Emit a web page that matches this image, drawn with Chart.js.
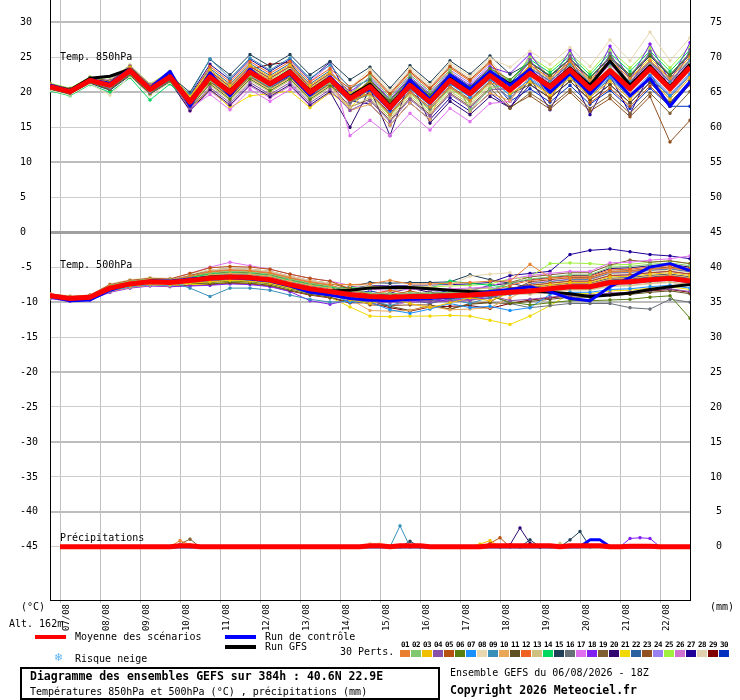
<!DOCTYPE html>
<html>
<head>
<meta charset="utf-8">
<script src="https://cdn.jsdelivr.net/npm/chart.js@4.4.1/dist/chart.umd.min.js"></script>
<style>
body { margin: 0; background: #fff; }
#wrap { position: relative; width: 740px; height: 700px; font-family: "DejaVu Sans Mono", monospace; color: #000; }
#wrap canvas { position: absolute; left: 0; top: 0; }
.t { position: absolute; white-space: pre; font-size: 10px; line-height: 10px; }
.b { font-weight: bold; font-size: 11.5px; line-height: 11.5px; }
.ln { position: absolute; height: 4px; width: 31px; }
#box { position: absolute; left: 20px; top: 667px; width: 420px; height: 33px; border: 2px solid #000; box-sizing: border-box; }
.sw { position: absolute; top: 650px; width: 10px; height: 7px; }
.num { position: absolute; top: 641px; width: 11px; text-align: center; font-size: 7.5px; line-height: 7.5px; font-weight: bold; letter-spacing: -0.5px; }
</style>
</head>
<body>
<div id="wrap">
  <canvas id="gefs" width="740" height="700"></canvas>
  <div class="t" style="left:60px;top:51.5px">Temp. 850hPa</div>
  <div class="t" style="left:60px;top:259.5px">Temp. 500hPa</div>
  <div class="t" style="left:60px;top:532.5px">Précipitations</div>
  <div class="t" style="left:21px;top:601.5px">(°C)</div>
  <div class="t" style="left:710px;top:601.5px">(mm)</div>
  <div class="t" style="left:9px;top:618.5px">Alt. 162m</div>
  <div class="ln" style="left:35px;top:635px;background:#ff0000"></div>
  <div class="t" style="left:75px;top:632px">Moyenne des scénarios</div>
  <div class="ln" style="left:225px;top:635px;background:#0000ff"></div>
  <div class="t" style="left:265px;top:632px">Run de contrôle</div>
  <div class="ln" style="left:225px;top:645px;background:#000"></div>
  <div class="t" style="left:265px;top:642px">Run GFS</div>
  <div class="t" style="left:340px;top:647px">30 Perts.</div>
  <div class="t" style="left:54px;top:652px;font-family:'DejaVu Sans';font-size:11px;line-height:11px;color:#58b0ee">❄</div>
  <div class="t" style="left:75px;top:653.5px">Risque neige</div>
  <div id="box"></div>
  <div class="t b" style="left:30px;top:671px">Diagramme des ensembles GEFS sur 384h : 40.6N 22.9E</div>
  <div class="t" style="left:30px;top:686.5px">Températures 850hPa et 500hPa (°C) , précipitations (mm)</div>
  <div class="t" style="left:450px;top:667.5px">Ensemble GEFS du 06/08/2026 - 18Z</div>
  <div class="t b" style="left:450px;top:685.3px">Copyright 2026 Meteociel.fr</div>
  <div id="legend"></div>
</div>
<script>
// x axis: one point every 12h from run start (06/08 18Z), 0..384h
const dayLabels = ["07/08","08/08","09/08","10/08","11/08","12/08","13/08","14/08",
                   "15/08","16/08","17/08","18/08","19/08","20/08","21/08","22/08"];
const leftTicks = [30,25,20,15,10,5,0,-5,-10,-15,-20,-25,-30,-35,-40,-45];
const rightTicks = [75,70,65,60,55,50,45,40,35,30,25,20,15,10,5,0];

const memberColors = ["#e8802f","#80c870","#f0c000","#8850a8","#b85010","#588010","#1890ff","#e8d8b0",
  "#3890b8","#e8a858","#605020","#f06020","#d0c080","#00d860","#204058","#687078","#e070f0","#8020f0",
  "#806030","#300870","#f0d800","#2860a0","#905020","#9880f0","#a0f040","#d070d0","#200098","#e0d0b0",
  "#800000","#0030c0"];

// 850 hPa temperature (°C)
const mean850 = [20.8,20.1,21.7,21.0,23.1,20.4,22.2,18.6,22.2,20.0,22.9,21.2,22.9,20.0,21.9,19.1,20.8,17.8,21.0,18.6,21.7,19.8,22.4,20.3,22.7,20.8,23.2,20.5,23.1,20.5,23.4,20.5,23.6];
const ctrl850 = [21.0,20.2,21.8,21.3,23.3,20.6,23.0,18.0,22.8,19.5,23.3,21.0,22.6,19.6,22.2,19.3,20.5,17.5,21.8,19.0,22.5,20.5,23.0,21.0,23.3,20.0,22.7,19.8,22.8,19.5,22.0,18.0,21.5];
const gfs850 = [20.9,20.3,22.0,22.3,23.3,20.6,22.4,18.8,22.3,20.2,23.0,21.3,23.1,20.2,22.1,19.4,21.2,18.1,21.3,18.9,22.0,20.3,22.9,21.2,22.9,21.0,23.5,21.0,24.5,21.0,23.8,20.8,24.0];
const members850 = [
  [21.0,20.3,21.9,21.3,23.4,20.9,22.5,19.0,22.7,20.5,23.4,21.7,23.0,20.5,22.4,18.9,19.8,16.8,20.0,17.9,20.7,18.8,21.4,20.6,23.9,22.0,24.4,21.7,24.6,22.0,24.5,22.0,25.1],
  [20.7,20.0,21.6,20.8,22.9,20.2,22.0,18.3,21.7,19.5,22.4,20.7,22.4,19.5,21.4,19.6,22.3,19.3,22.5,20.1,23.2,17.5,20.5,21.3,23.1,21.2,23.6,20.9,23.6,21.0,23.9,21.0,24.1],
  [21.1,20.4,22.0,21.5,23.6,20.9,22.7,19.4,23.2,21.0,23.9,22.2,23.9,21.0,22.9,19.9,21.3,18.3,21.5,19.1,22.2,20.3,22.9,19.8,21.5,19.6,22.0,19.3,21.6,19.0,21.9,19.0,22.1],
  [20.6,19.9,21.5,20.6,22.7,20.0,21.8,17.7,20.7,18.5,21.4,19.7,21.4,18.5,20.4,17.4,18.8,15.8,19.0,16.6,19.7,17.8,20.4,20.5,24.7,20.5,25.2,19.8,25.6,21.0,25.9,20.5,26.1],
  [20.9,20.2,21.8,21.2,23.3,20.6,22.4,19.1,23.0,20.8,23.7,22.0,23.7,20.8,22.7,20.5,22.8,19.8,23.0,20.6,23.7,21.8,24.4,20.1,23.8,18.8,24.8,18.5,20.6,18.0,20.9,18.0,21.1],
  [20.5,19.8,21.4,20.4,22.5,19.8,21.6,17.8,21.2,19.0,21.9,20.2,21.9,19.0,20.9,19.1,21.8,18.8,22.0,19.6,22.7,20.8,23.4,21.8,24.3,22.4,24.8,22.1,25.1,22.5,25.4,22.5,25.6],
  [21.1,20.4,22.0,21.4,23.5,20.8,22.6,18.9,22.4,20.2,23.1,21.4,23.1,20.2,22.1,19.0,20.3,17.3,20.5,18.1,21.2,19.3,21.9,19.6,21.9,20.0,22.4,19.7,22.1,19.5,22.4,19.5,22.6],
  [20.3,19.6,21.2,19.6,22.3,19.6,21.4,18.5,22.7,20.5,23.4,21.7,23.4,20.5,22.4,20.6,23.3,20.3,23.5,21.1,24.2,22.3,24.9,23.6,25.9,24.0,26.4,23.7,27.5,24.5,28.6,24.5,27.8],
  [20.9,20.2,21.8,21.1,23.2,20.5,22.3,19.7,24.8,22.0,24.9,23.2,24.9,22.0,23.9,20.6,21.8,18.8,22.0,19.6,22.7,20.8,23.4,21.3,23.5,21.6,24.0,21.3,24.1,21.5,24.4,21.5,24.6],
  [20.6,19.9,21.5,20.7,22.8,20.1,21.9,18.0,21.4,19.2,22.1,20.4,22.1,19.2,21.1,17.4,18.3,15.3,18.5,16.1,23.5,17.3,19.9,18.8,22.3,20.4,22.8,20.1,22.6,20.0,22.9,20.0,23.1],
  [21.2,20.5,22.1,21.6,23.7,21.0,22.8,18.8,22.0,19.8,22.7,21.0,22.7,19.8,21.7,19.4,21.6,18.6,21.8,19.4,22.5,20.6,23.2,19.7,21.1,19.2,21.6,18.9,21.1,18.5,21.4,18.5,21.6],
  [20.7,20.0,21.6,20.9,23.0,20.3,22.1,19.3,23.7,21.5,24.4,22.7,24.4,21.5,23.4,20.8,22.6,19.6,22.8,20.4,23.5,21.6,24.2,21.2,23.0,20.8,23.2,20.5,23.1,20.9,23.4,20.5,23.6],
  [21.0,20.3,21.9,21.3,23.4,20.7,22.5,18.2,21.0,18.8,21.7,20.0,21.7,18.8,20.7,17.8,19.3,16.3,19.5,17.1,20.2,18.3,20.9,20.2,23.7,21.8,24.2,21.5,24.3,21.7,24.6,21.7,24.8],
  [20.2,19.5,21.1,20.0,22.1,18.9,21.2,18.3,22.5,20.3,23.2,21.5,23.2,20.3,22.2,19.4,21.1,18.1,21.3,18.9,22.0,20.1,22.7,21.7,24.7,22.8,25.2,22.5,25.6,23.0,25.9,23.0,26.1],
  [20.9,20.2,21.8,21.2,23.3,20.6,22.4,20.0,24.7,22.5,25.4,23.7,25.4,22.5,24.4,21.8,23.6,20.6,23.8,21.4,24.5,22.6,25.2,22.6,24.2,22.3,24.7,22.0,24.9,22.3,25.2,22.3,25.4],
  [20.5,19.8,21.4,20.5,22.6,19.9,21.7,18.2,21.9,19.7,22.6,20.9,22.6,19.7,21.6,18.5,19.8,16.8,20.0,17.6,20.7,18.8,21.4,19.2,21.7,19.8,22.2,19.5,21.9,19.3,22.2,19.3,22.4],
  [21.2,20.5,22.1,21.7,23.8,21.1,22.9,17.7,19.7,17.5,20.4,18.7,20.4,21.5,24.0,13.8,16.0,13.8,17.0,14.6,17.7,15.8,18.4,18.7,23.3,21.4,23.8,21.1,23.9,21.3,24.2,21.3,24.4],
  [20.7,20.0,21.6,20.8,22.9,20.2,22.0,18.9,23.0,20.8,23.7,22.0,23.7,20.8,22.7,20.1,22.0,19.0,22.2,19.8,22.9,21.0,23.6,22.7,25.5,21.5,26.0,20.8,26.6,21.8,26.9,21.5,27.1],
  [21.1,20.4,22.0,21.4,23.5,20.8,22.6,18.5,21.5,19.3,22.2,20.5,22.2,19.3,21.2,17.9,19.0,16.0,19.2,16.8,19.9,18.0,20.6,17.7,19.9,18.0,20.4,17.7,19.6,17.0,19.9,17.0,20.1],
  [20.4,19.7,21.3,20.3,22.4,19.7,21.5,17.4,20.4,18.2,21.1,19.4,21.1,18.2,20.1,15.0,20.5,13.8,21.8,15.6,18.7,16.8,19.4,17.8,21.1,19.2,21.6,18.9,21.1,18.5,21.4,18.5,21.6],
  [20.6,19.9,21.5,20.7,22.8,20.1,21.9,17.6,20.5,17.8,19.5,19.8,20.2,17.8,20.0,17.8,20.6,17.6,20.8,18.4,21.5,19.6,22.2,21.0,23.9,22.0,24.4,21.7,24.6,22.0,24.9,22.0,25.1],
  [21.1,20.4,22.0,21.5,23.6,20.9,22.7,19.5,23.4,21.2,24.1,22.4,24.1,21.2,23.1,19.7,20.8,17.8,21.0,18.6,21.7,19.8,22.4,21.3,24.3,22.4,24.8,22.1,25.1,22.5,25.4,22.5,25.6],
  [20.6,19.9,21.5,20.6,22.7,20.0,21.8,18.4,22.2,20.0,22.9,21.2,22.9,20.0,21.9,18.7,20.0,17.0,20.2,17.8,20.9,19.0,21.6,17.9,19.5,17.6,20.0,17.3,19.1,16.5,19.4,12.9,16.0],
  [20.9,20.2,21.8,21.1,23.2,20.5,22.3,18.5,21.8,19.6,22.5,20.8,22.5,19.6,21.5,19.7,22.3,19.3,22.5,20.1,23.2,21.3,23.9,20.7,22.1,20.2,22.6,19.9,22.3,19.7,22.6,19.7,22.8],
  [21.3,20.6,22.2,21.8,23.9,21.2,23.0,19.3,22.8,20.6,23.5,21.8,23.5,20.6,22.5,18.8,19.6,16.6,19.8,17.4,20.5,18.6,21.2,21.2,25.1,23.2,25.6,22.9,26.1,23.5,26.4,23.5,26.6],
  [20.5,19.8,21.4,20.4,22.5,19.8,21.6,17.3,20.2,18.0,20.9,19.2,20.9,18.0,19.9,18.4,21.3,18.3,21.5,19.1,22.2,20.3,22.9,19.8,25.5,22.0,22.0,19.3,21.6,19.0,21.9,19.0,22.1],
  [20.9,20.2,21.8,21.2,23.3,20.6,22.4,19.6,24.0,21.8,24.7,23.0,24.7,21.8,24.3,18.8,18.3,15.3,18.5,16.1,19.2,17.3,19.9,17.8,22.0,17.5,23.0,16.8,22.4,16.9,22.8,18.0,21.1],
  [21.0,20.3,21.9,21.3,23.4,20.7,22.5,18.3,21.2,19.0,21.9,20.2,21.9,19.0,20.9,19.7,23.0,20.0,23.2,20.8,23.9,22.0,24.6,21.3,22.5,20.6,23.0,20.3,22.9,20.3,23.2,20.3,23.4],
  [20.6,19.9,21.5,20.7,22.8,20.1,21.9,18.6,22.6,20.4,23.3,24.0,24.3,20.4,22.3,19.6,21.4,18.4,21.6,19.2,22.3,20.4,23.0,21.1,23.5,21.6,24.0,21.3,24.1,21.5,24.4,21.5,24.6],
  [20.8,20.1,21.7,21.0,23.1,20.4,22.2,18.3,21.6,19.4,22.3,20.6,22.3,19.4,21.3,18.6,20.4,17.4,20.6,18.2,21.3,19.4,22.0,18.7,20.5,18.6,21.0,18.3,20.3,17.7,20.6,18.0,18.0]
];

// 500 hPa temperature (°C)
const mean500 = [-9.1,-9.5,-9.3,-8.0,-7.4,-7.1,-7.2,-6.9,-6.6,-6.4,-6.5,-6.8,-7.5,-8.1,-8.5,-8.9,-9.2,-9.3,-9.2,-9.2,-9.1,-9.0,-8.8,-8.6,-8.4,-8.1,-7.8,-7.8,-7.2,-7.1,-6.8,-6.6,-7.0];
const ctrl500 = [-9.2,-9.8,-9.7,-8.3,-7.4,-7.0,-7.0,-6.7,-6.5,-6.5,-6.7,-7.0,-7.7,-8.6,-9.0,-9.5,-9.7,-9.8,-9.6,-9.5,-9.3,-8.9,-8.5,-8.2,-7.8,-8.5,-9.5,-9.8,-7.8,-6.5,-5.0,-4.5,-5.5];
const gfs500 = [-9.1,-9.6,-9.4,-8.1,-7.5,-7.0,-7.1,-6.8,-6.4,-6.3,-6.4,-6.9,-7.6,-8.2,-8.4,-8.3,-8.0,-7.9,-7.9,-8.1,-8.3,-8.5,-8.6,-8.5,-8.4,-8.6,-8.8,-9.2,-9.0,-8.7,-8.2,-7.8,-7.5];
const members500 = [
  [-8.9,-9.3,-9.1,-7.7,-7.1,-6.8,-6.9,-6.3,-5.6,-5.4,-5.5,-5.8,-6.5,-7.1,-7.5,-7.5,-7.4,-6.9,-7.4,-7.4,-7.3,-7.2,-7.0,-7.0,-4.6,-6.5,-6.6,-6.6,-5.7,-5.6,-5.3,-5.1,-5.5],
  [-8.9,-9.3,-9.1,-7.6,-7.0,-6.7,-6.8,-6.3,-5.8,-5.6,-5.7,-6.0,-6.7,-7.3,-7.7,-8.3,-8.7,-8.8,-8.7,-8.7,-8.6,-8.5,-8.3,-7.3,-6.7,-6.4,-6.1,-6.1,-5.0,-4.9,-4.6,-4.4,-4.8],
  [-9.3,-9.7,-9.5,-8.3,-7.7,-7.4,-7.5,-7.3,-7.1,-6.9,-7.0,-7.3,-8.0,-8.6,-9.0,-9.7,-10.2,-9.5,-10.2,-10.8,-10.1,-9.4,-9.8,-8.7,-7.8,-7.5,-7.2,-7.2,-6.4,-6.3,-6.0,-5.8,-6.2],
  [-9.0,-9.4,-9.2,-7.8,-7.2,-6.9,-7.0,-6.8,-6.6,-6.4,-6.5,-6.8,-7.5,-8.1,-8.5,-9.3,-10.0,-10.1,-10.0,-10.0,-9.9,-9.8,-9.0,-9.8,-9.6,-9.3,-9.0,-9.0,-8.7,-8.6,-8.3,-8.1,-8.5],
  [-8.8,-9.2,-9.0,-7.5,-6.9,-6.6,-6.7,-5.9,-5.1,-4.9,-5.0,-5.3,-6.0,-6.6,-7.0,-8.1,-9.0,-9.1,-8.4,-9.0,-8.9,-8.8,-8.6,-8.0,-7.6,-7.3,-7.0,-7.0,-6.2,-6.1,-5.8,-5.6,-6.0],
  [-9.2,-9.6,-9.4,-8.2,-7.6,-7.3,-7.4,-7.3,-7.2,-7.0,-7.1,-7.4,-8.1,-8.7,-9.1,-9.4,-9.5,-9.6,-9.5,-9.5,-9.4,-9.3,-9.1,-10.0,-10.4,-10.1,-9.8,-9.8,-9.7,-9.6,-9.3,-9.1,-12.3],
  [-9.4,-9.8,-9.6,-8.4,-7.8,-7.5,-7.6,-7.3,-6.9,-6.7,-6.8,-7.1,-7.8,-8.4,-8.8,-10.0,-10.0,-11.1,-11.6,-11.0,-10.2,-10.8,-10.6,-11.2,-10.8,-8.9,-8.6,-8.6,-8.2,-8.1,-7.8,-7.6,-8.0],
  [-8.8,-9.1,-9.0,-7.4,-6.8,-6.5,-6.6,-6.0,-5.4,-5.2,-5.3,-5.6,-6.3,-6.9,-7.3,-7.6,-7.7,-7.8,-7.7,-7.7,-7.6,-6.3,-6.0,-5.8,-7.5,-7.2,-6.9,-6.9,-6.0,-5.9,-5.6,-5.4,-5.8],
  [-9.0,-9.4,-9.2,-7.9,-7.3,-7.0,-7.1,-8.0,-9.2,-8.0,-8.0,-8.3,-9.0,-9.6,-10.0,-9.9,-9.7,-10.5,-9.7,-9.0,-9.6,-10.2,-9.3,-8.9,-8.6,-8.3,-8.0,-8.0,-7.4,-7.3,-7.0,-6.8,-7.2],
  [-9.4,-9.8,-9.6,-8.5,-7.9,-7.6,-7.7,-6.9,-6.1,-5.9,-6.0,-6.3,-7.0,-7.6,-8.0,-9.6,-11.2,-11.3,-11.2,-10.6,-11.1,-11.0,-10.8,-9.4,-8.0,-7.7,-7.4,-7.4,-6.7,-6.6,-6.3,-6.1,-6.5],
  [-9.1,-9.5,-9.3,-8.0,-7.4,-7.1,-7.2,-7.3,-7.4,-7.2,-7.3,-7.6,-8.3,-8.9,-9.3,-10.0,-9.8,-10.6,-11.2,-10.5,-11.0,-10.3,-10.1,-10.2,-9.9,-9.6,-9.3,-9.3,-9.0,-8.9,-8.6,-8.4,-8.8],
  [-8.9,-9.3,-9.1,-7.6,-7.0,-6.7,-6.8,-6.3,-5.7,-5.5,-5.6,-5.9,-6.6,-7.2,-7.6,-8.3,-8.9,-8.3,-8.9,-9.5,-8.8,-8.7,-8.5,-7.6,-6.9,-6.6,-6.3,-6.3,-5.4,-5.3,-5.0,-4.8,-5.2],
  [-9.2,-9.6,-9.4,-8.1,-7.5,-7.2,-7.3,-6.8,-6.3,-6.1,-6.2,-6.5,-7.2,-7.8,-8.2,-8.4,-8.9,-8.5,-7.9,-7.8,-8.3,-8.2,-8.0,-8.5,-8.8,-8.5,-8.2,-8.2,-7.7,-7.6,-7.3,-7.1,-7.5],
  [-8.9,-9.3,-9.1,-7.7,-7.1,-6.8,-6.9,-6.5,-6.0,-5.8,-5.9,-6.2,-6.9,-7.5,-7.9,-8.0,-8.0,-8.1,-8.0,-8.0,-7.0,-7.3,-7.6,-7.9,-8.2,-7.9,-7.6,-7.6,-6.9,-6.8,-6.5,-6.3,-6.7],
  [-9.2,-9.6,-9.4,-8.2,-7.6,-7.3,-7.4,-6.9,-6.4,-6.2,-6.3,-6.6,-7.3,-7.9,-8.3,-7.8,-7.2,-7.3,-7.2,-7.2,-7.1,-6.1,-6.8,-7.3,-7.9,-7.6,-7.3,-7.3,-6.6,-6.5,-6.2,-6.0,-6.4],
  [-9.3,-9.7,-9.5,-8.3,-7.7,-7.4,-7.5,-7.3,-7.0,-6.8,-6.9,-7.2,-7.9,-8.5,-8.9,-9.2,-9.4,-8.8,-9.4,-9.9,-9.3,-8.6,-9.0,-10.2,-10.8,-10.5,-10.2,-10.2,-10.2,-10.8,-11.0,-9.6,-10.0],
  [-8.8,-9.2,-9.0,-7.5,-6.9,-6.6,-6.7,-5.9,-5.0,-4.3,-4.8,-5.3,-6.0,-6.6,-7.0,-7.6,-8.2,-8.3,-8.2,-8.2,-8.1,-8.0,-7.8,-6.7,-6.2,-5.9,-5.6,-5.6,-4.4,-4.3,-4.0,-3.8,-3.4],
  [-9.5,-9.9,-9.7,-8.6,-8.0,-7.7,-7.8,-7.7,-7.6,-7.4,-7.5,-7.8,-8.5,-9.8,-10.3,-9.7,-9.8,-9.9,-9.8,-9.8,-9.7,-9.6,-9.4,-8.4,-7.6,-7.3,-7.0,-7.0,-6.2,-6.1,-5.8,-5.6,-6.0],
  [-9.0,-9.4,-9.2,-7.8,-7.2,-6.9,-7.0,-6.2,-5.4,-5.2,-5.3,-5.6,-6.3,-6.9,-7.3,-8.1,-8.8,-8.9,-8.8,-8.8,-8.7,-8.6,-8.4,-7.2,-6.4,-6.1,-5.8,-5.8,-4.7,-4.0,-4.3,-4.1,-4.5],
  [-9.2,-9.6,-9.4,-8.1,-7.5,-7.2,-7.3,-7.1,-6.8,-6.6,-6.7,-7.0,-7.7,-8.3,-8.7,-8.7,-9.2,-8.7,-8.0,-8.6,-9.0,-8.4,-7.6,-7.3,-6.8,-6.5,-6.2,-6.2,-5.2,-5.1,-4.8,-4.6,-5.0],
  [-9.4,-9.8,-9.6,-8.4,-7.8,-7.5,-7.6,-7.5,-7.4,-7.2,-7.3,-7.6,-8.3,-8.9,-9.3,-10.7,-12.0,-12.1,-12.0,-12.0,-11.9,-12.0,-12.6,-13.2,-12.0,-10.5,-8.8,-8.8,-8.4,-8.3,-8.0,-7.8,-8.2],
  [-9.1,-9.5,-9.3,-7.9,-7.3,-7.0,-7.1,-6.7,-6.2,-6.0,-6.1,-6.4,-7.1,-7.7,-8.1,-8.9,-9.6,-9.0,-9.6,-10.2,-9.5,-9.4,-9.2,-8.2,-7.4,-7.1,-6.8,-6.8,-5.9,-5.8,-5.5,-5.3,-5.7],
  [-8.9,-9.3,-9.1,-7.7,-7.1,-6.8,-6.9,-6.4,-5.9,-5.7,-5.8,-6.1,-6.8,-7.4,-7.8,-9.2,-10.4,-10.5,-10.4,-10.4,-11.0,-10.2,-10.0,-8.4,-7.1,-6.8,-6.5,-6.5,-5.6,-5.5,-5.2,-5.0,-5.4],
  [-9.2,-9.6,-9.4,-8.2,-7.6,-7.3,-7.4,-7.1,-6.7,-6.5,-6.6,-6.9,-7.6,-8.2,-8.6,-8.5,-8.9,-8.4,-7.7,-8.3,-8.8,-8.1,-7.9,-8.3,-8.7,-8.4,-8.1,-8.1,-7.5,-7.4,-7.1,-6.9,-7.3],
  [-9.0,-9.4,-9.2,-7.8,-7.2,-6.9,-7.0,-6.6,-6.1,-5.9,-6.0,-6.3,-7.0,-7.6,-8.0,-8.0,-7.8,-7.9,-7.8,-7.8,-7.7,-7.6,-7.4,-6.7,-6.4,-4.5,-4.4,-4.5,-4.7,-4.6,-4.3,-4.1,-4.5],
  [-8.9,-9.3,-9.1,-7.6,-7.0,-6.7,-6.8,-6.2,-5.6,-5.4,-5.5,-5.8,-6.5,-7.1,-7.5,-8.8,-9.9,-10.6,-9.9,-9.9,-9.8,-9.7,-9.5,-8.3,-7.3,-7.0,-6.7,-6.7,-5.8,-5.7,-5.4,-5.2,-5.6],
  [-9.3,-9.7,-9.5,-8.3,-7.7,-7.4,-7.5,-7.0,-6.5,-6.3,-6.4,-6.7,-7.4,-8.0,-8.4,-8.1,-7.6,-7.7,-7.6,-7.6,-7.5,-7.4,-7.2,-6.2,-5.9,-5.6,-3.2,-2.6,-2.4,-2.8,-3.2,-3.4,-3.8],
  [-9.1,-9.5,-9.3,-8.0,-7.4,-7.1,-7.2,-7.1,-6.9,-6.7,-6.8,-7.1,-7.8,-8.4,-8.8,-9.0,-9.1,-9.8,-9.1,-8.5,-9.0,-9.4,-8.7,-8.9,-8.9,-8.6,-8.3,-8.3,-7.8,-7.7,-7.4,-7.2,-7.6],
  [-9.4,-9.8,-9.6,-8.5,-7.9,-7.6,-7.7,-7.6,-7.5,-7.3,-7.4,-7.7,-8.4,-9.0,-9.4,-10.1,-10.1,-10.8,-11.3,-10.7,-10.6,-10.5,-10.9,-10.2,-9.7,-9.4,-9.1,-9.1,-8.8,-8.7,-8.4,-8.2,-8.6],
  [-9.1,-9.5,-9.3,-7.9,-7.3,-7.0,-7.1,-7.0,-6.8,-6.6,-6.7,-7.0,-7.7,-8.3,-8.7,-8.9,-8.4,-9.0,-9.5,-8.9,-8.3,-8.7,-8.5,-8.3,-8.1,-7.8,-7.5,-7.5,-6.8,-6.7,-6.4,-6.2,-6.6]
];

// precipitation (mm per 6h), one value every 6h from +6h to +384h
const meanRain = [0,0,0,0,0,0,0,0,0,0,0,0,0.15,0.15,0,0,0,0,0,0,0,0,0,0,0,0,0,0,0,0,0,0.15,0.15,0,0.15,0.15,0.15,0,0,0,0,0,0,0.15,0.15,0.15,0.15,0.15,0.15,0.15,0,0.15,0.15,0.15,0.15,0,0,0.1,0.1,0.1,0,0,0,0];
const ctrlRain = [0,0,0,0,0,0,0,0,0,0,0,0,0,0,0,0,0,0,0,0,0,0,0,0,0,0,0,0,0,0,0,0,0,0,0,0,0,0,0,0,0,0,0,0,0,0,0,0,0,0,0,0,0,1.0,1.0,0,0,0,0,0,0,0,0,0];
const gfsRain = [0,0,0,0,0,0,0,0,0,0,0,0,0,0,0,0,0,0,0,0,0,0,0,0,0,0,0,0,0,0,0,0,0,0,0,0,0,0,0,0,0,0,0,0,0,0,0,0,0,0,0,0,0,0,0,0,0,0,0,0,0,0,0,0];
// members with some rain: [member number, hours, mm]; elsewhere they stay at 0
const memberRain = [
  [1,  [72,78,84,90], [0,0.9,0.3,0]],
  [17, [72,78,84], [0,0.3,0]],
  [19, [72,78,84,90], [0,0.4,1.1,0]],
  [8,  [186,192,198,204], [0,0.5,0.5,0]],
  [9,  [204,210,216], [0,3.0,0]],
  [15, [210,216,222,282,288,294,306,312,318,324], [0,0.8,0,0,1.0,0,0,1.0,2.2,0]],
  [3,  [252,258,264,270], [0,0.4,0.9,0]],
  [5,  [258,264,270,276], [0,0.5,1.3,0]],
  [20, [270,276,282,288,294], [0,0.3,2.7,0.5,0]],
  [13, [300,306,312], [0,0.5,0]],
  [18, [342,348,354,360,366], [0,1.2,1.3,1.2,0]]
];

function pts(arr, step, start) {
  return arr.map((v, i) => ({ x: start + i * step, y: v }));
}

function mainLine(data, color, width, order, axis) {
  return { data: data, borderColor: color, backgroundColor: color, borderWidth: width,
    pointRadius: 0, pointHoverRadius: 0, order: order, yAxisID: axis, borderJoinStyle: "round" };
}

function memberLine(data, color, axis) {
  return { data: data, borderColor: color, backgroundColor: color, borderWidth: 1,
    pointRadius: 1.5, pointHoverRadius: 0, pointStyle: "rect", pointBorderWidth: 1, pointBorderColor: color,
    pointBackgroundColor: color, order: 3, yAxisID: axis };
}

const datasets = [];
datasets.push(mainLine(pts(mean850, 12, 0), "#ff0000", 5, 0, "y"));
datasets.push(mainLine(pts(ctrl850, 12, 0), "#0000ff", 3, 1, "y"));
datasets.push(mainLine(pts(gfs850, 12, 0), "#000000", 3, 2, "y"));
datasets.push(mainLine(pts(mean500, 12, 0), "#ff0000", 5, 0, "y"));
datasets.push(mainLine(pts(ctrl500, 12, 0), "#0000ff", 3, 1, "y"));
datasets.push(mainLine(pts(gfs500, 12, 0), "#000000", 3, 2, "y"));
datasets.push(mainLine(pts(meanRain, 6, 6), "#ff0000", 5, 0, "y2"));
datasets.push(mainLine(pts(ctrlRain, 6, 6), "#0000ff", 3, 1, "y2"));
datasets.push(mainLine(pts(gfsRain, 6, 6), "#000000", 3, 2, "y2"));
members850.forEach((row, i) => datasets.push(memberLine(pts(row, 12, 0), memberColors[i], "y")));
members500.forEach((row, i) => datasets.push(memberLine(pts(row, 12, 0), memberColors[i], "y")));
memberRain.forEach(r => {
  const data = r[1].map((h, j) => ({ x: h, y: r[2][j] }));
  datasets.push(memberLine(data, memberColors[r[0] - 1], "y2"));
});

const tickFont = { family: "DejaVu Sans Mono", size: 10 };

function noPad(a) {
  a.paddingTop = 0; a.paddingBottom = 0; a.paddingLeft = 0; a.paddingRight = 0;
}

new Chart(document.getElementById("gefs"), {
  type: "line",
  data: { datasets: datasets },
  options: {
    responsive: false,
    animation: false,
    devicePixelRatio: 1,
    events: [],
    layout: { autoPadding: false, padding: { left: 20, right: 18, top: 0, bottom: 0 } },
    plugins: { legend: { display: false }, tooltip: { enabled: false } },
    scales: {
      x: {
        type: "linear", min: 0, max: 384,
        afterBuildTicks: a => { a.ticks = dayLabels.map((l, i) => ({ value: 6 + 24 * i })); },
        ticks: {
          autoSkip: false, maxRotation: 90, minRotation: 90, labelOffset: 7, padding: 1,
          color: "#000", font: { family: "DejaVu Sans Mono", size: 9 },
          callback: (v, i) => dayLabels[i]
        },
        grid: { color: "#c0c0c0", lineWidth: 1, tickLength: 3 },
        border: { color: "#000", width: 1 },
        afterFit: a => { a.height = 100; noPad(a); }
      },
      y: {
        position: "left", min: -52.6, max: 33.2,
        afterBuildTicks: a => { a.ticks = leftTicks.map(v => ({ value: v })); },
        ticks: { crossAlign: "far", color: "#000", font: tickFont, callback: v => String(v) },
        grid: {
          drawTicks: false,
          color: c => c.tick.value === 0 ? "#a0a0a0" : (c.tick.value % 10 === 0 ? "#bdbdbd" : "#cdcdcd"),
          lineWidth: c => c.tick.value === 0 ? 3 : (c.tick.value % 10 === 0 ? 2 : 1)
        },
        border: { color: "#000", width: 1 },
        afterFit: a => { a.width = 30; noPad(a); }
      },
      y2: {
        position: "right", min: -7.6, max: 78.2,
        afterBuildTicks: a => { a.ticks = rightTicks.map(v => ({ value: v })); },
        ticks: { crossAlign: "far", color: "#000", font: tickFont, callback: v => String(v) },
        grid: { display: false, drawTicks: false },
        border: { color: "#000", width: 1 },
        afterFit: a => { a.width = 32; noPad(a); }
      }
    }
  }
});

// colour key of the 30 perturbations
const legend = document.getElementById("legend");
memberColors.forEach((c, i) => {
  const n = document.createElement("div");
  n.className = "num";
  n.style.left = (400 + 11 * i - 0.5) + "px";
  n.textContent = String(i + 1).padStart(2, "0");
  legend.appendChild(n);
  const s = document.createElement("div");
  s.className = "sw";
  s.style.left = (400 + 11 * i) + "px";
  s.style.background = c;
  legend.appendChild(s);
});
</script>
</body>
</html>
